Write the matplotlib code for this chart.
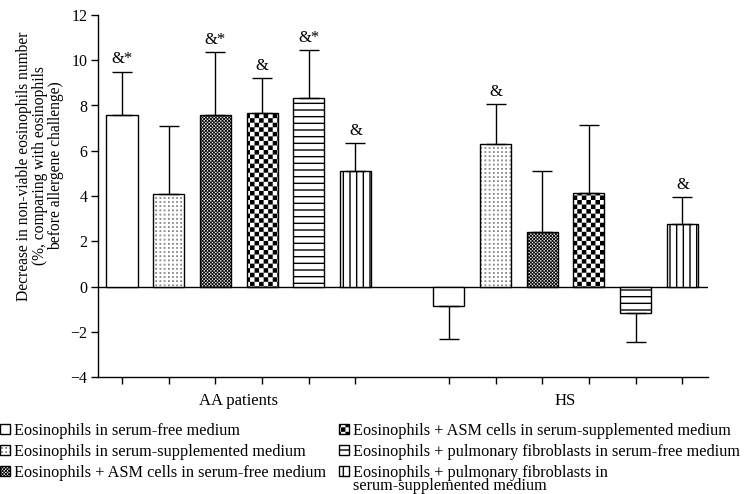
import numpy as np
import matplotlib
matplotlib.use('Agg')
import matplotlib.pyplot as plt
import matplotlib.hatch as mhatch
from matplotlib.path import Path
from matplotlib.patches import Rectangle
from matplotlib.legend_handler import HandlerPatch

# data
groups = ['AA patients', 'HS']
series = ['Eosinophils in serum-free medium',
          'Eosinophils in serum-supplemented medium',
          'Eosinophils + ASM cells in serum-free medium',
          'Eosinophils + ASM cells in serum-supplemented medium',
          'Eosinophils + pulmonary fibroblasts in serum-free medium',
          'Eosinophils + pulmonary fibroblasts in\nserum-supplemented medium']
aa_mean = [7.6, 4.1, 7.6, 7.65, 8.35, 5.1]
aa_err = [1.9, 3.0, 2.75, 1.55, 2.1, 1.25]
hs_mean = [-0.85, 6.3, 2.4, 4.15, -1.15, 2.75]
hs_err = [1.45, 1.75, 2.7, 3.0, 1.3, 1.2]
aa_marks = ['&*', '', '&*', '&', '&*', '&']
hs_marks = ['', '&', '', '', '', '&']
yticks = [-4, -2, 0, 2, 4, 6, 8, 10, 12]

hatches = [None, '.', 'x', '+', '-', '|']

# --- custom hatch patterns (tile = 72 pt) ---
LW = 1.0 / 72  # hatch stroke width in tile units


class LineHatch(mhatch.HatchPatternBase):
    def __init__(self, hatch, density):
        self.nh = hatch.count('-') * 15
        self.nv = hatch.count('|') * 15
        self.num_vertices = 2 * (self.nh + self.nv)

    def set_vertices_and_codes(self, vertices, codes):
        segs = []
        for k in range(self.nh):
            y = (k + 0.5) / self.nh
            segs += [(0, y), (1, y)]
        for k in range(self.nv):
            x = (k + 0.5) / self.nv
            segs += [(x, 0), (x, 1)]
        vertices[:] = segs
        codes[0::2] = Path.MOVETO
        codes[1::2] = Path.LINETO


class SquareHatch(mhatch.HatchPatternBase):
    # '.' dots on a grid, '+' coarse checkerboard, 'x' fine checkerboard
    def __init__(self, hatch, density):
        self.spec = None
        if '.' in hatch:
            self.spec = (24, 0.001, False)
        elif '+' in hatch:
            self.spec = (22, 1 / 22 - LW, True)
        elif 'x' in hatch:
            self.spec = (60, 0.005, True)
        if self.spec is None:
            self.num_vertices = 0
        else:
            n, s, checker = self.spec
            count = n * n // 2 if checker else n * n
            self.num_vertices = count * 5

    def set_vertices_and_codes(self, vertices, codes):
        n, s, checker = self.spec
        c = 1.0 / n
        k = 0
        for i in range(n):
            for j in range(n):
                if checker and (i + j) % 2:
                    continue
                x0 = i * c + (c - s) / 2
                y0 = j * c + (c - s) / 2
                vertices[k:k + 5] = [(x0, y0), (x0 + s, y0), (x0 + s, y0 + s),
                                     (x0, y0 + s), (x0, y0)]
                codes[k:k + 5] = [Path.MOVETO, Path.LINETO, Path.LINETO,
                                  Path.LINETO, Path.CLOSEPOLY]
                k += 5


mhatch._hatch_types = [LineHatch, SquareHatch]


def top_line_patch(legend, orig_handle, xdescent, ydescent, width, height, fontsize):
    # legend box for a two-line label: put it next to the first line
    return Rectangle((-xdescent, -ydescent + 0.53 * fontsize), width, height)


plt.rcParams['font.family'] = ['Liberation Serif', 'DejaVu Serif']
plt.rcParams['hatch.linewidth'] = 1.0
plt.rcParams['axes.linewidth'] = 1.0

fig = plt.figure(figsize=(7.49, 4.94), dpi=100)
ax = fig.add_axes([98 / 749, 1 - 377 / 494, 610 / 749, 362 / 494])

n = len(series)
pos_aa = np.arange(n)
pos_hs = np.arange(n) + n + 1
width = 0.665

handles = []
for i in range(n):
    means = [aa_mean[i], hs_mean[i]]
    errs = [aa_err[i], hs_err[i]]
    xs = [pos_aa[i], pos_hs[i]]
    bars = ax.bar(xs, means, width, color='white', edgecolor='black', linewidth=1.0,
                  hatch=hatches[i], label=series[i], zorder=2)
    handles.append(bars.patches[0])
    lower = [e if m < 0 else 0 for m, e in zip(means, errs)]
    upper = [e if m >= 0 else 0 for m, e in zip(means, errs)]
    ax.errorbar(xs, means, yerr=[lower, upper], fmt='none', ecolor='black',
                elinewidth=1.0, capsize=7, capthick=1.0, zorder=3)

for x, m, e, t in zip(list(pos_aa) + list(pos_hs), aa_mean + hs_mean,
                      aa_err + hs_err, aa_marks + hs_marks):
    if t:
        ax.annotate(t, (x, m + e), xytext=(0, 3), textcoords='offset points',
                    ha='center', va='bottom', fontsize=12)

ax.axhline(0, color='black', linewidth=1.0, zorder=1)

ax.set_xlim(-0.514, 12.55)
ax.set_ylim(-4, 12)
ax.set_yticks(yticks)
ax.set_xticks(list(pos_aa) + list(pos_hs))
ax.set_xticklabels([])
ax.tick_params(direction='out', length=5, width=1.0, labelsize=11.5, pad=2.5)
ax.spines['top'].set_visible(False)
ax.spines['right'].set_visible(False)

ax.text(pos_aa.mean(), -0.045, groups[0], transform=ax.get_xaxis_transform(),
        ha='center', va='top', fontsize=12)
ax.text(pos_hs.mean(), -0.045, groups[1], transform=ax.get_xaxis_transform(),
        ha='center', va='top', fontsize=12)

fig.text(0.053, 1 - 166 / 494,
         'Decrease in non-viable eosinophils number\n'
         '(%, comparing with eosinophils\nbefore allergene challenge)',
         rotation=90, ha='center', va='center', multialignment='center',
         fontsize=11.2, linespacing=1.0)

leg = fig.legend(handles, series, loc='upper left', bbox_to_anchor=(0.0, 1 - 423 / 494),
                 ncol=2, frameon=False, fontsize=11.7, borderpad=0, borderaxespad=0,
                 handlelength=0.6, handleheight=0.55, handletextpad=0.25,
                 columnspacing=0.8, labelspacing=0.3,
                 handler_map={handles[-1]: HandlerPatch(patch_func=top_line_patch)})
leg.get_texts()[-1].set_linespacing(0.8)

fig.savefig('out.png', dpi=100)
